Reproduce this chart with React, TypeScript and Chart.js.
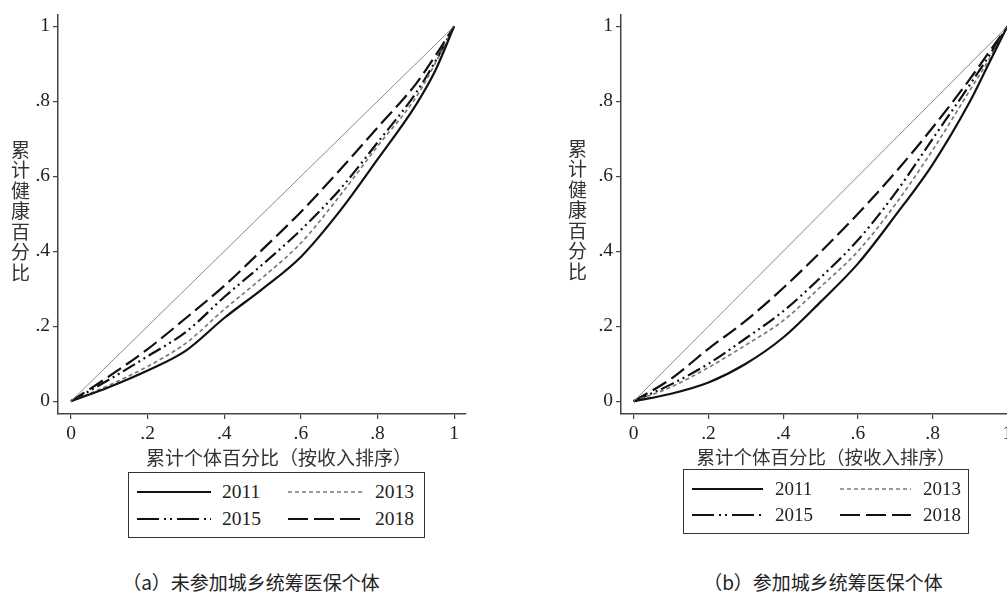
import React, { useEffect, useRef } from "react";
import { Chart, registerables } from "chart.js";
Chart.register(...registerables);

// Cumulative population share (ranked by income)
const xShares = [0, 0.1, 0.2, 0.3, 0.4, 0.5, 0.6, 0.7, 0.8, 0.9, 0.95, 1];

// Panel (a): not enrolled in integrated urban-rural insurance
const leftY2011 = [0, 0.038, 0.082, 0.135, 0.222, 0.3, 0.385, 0.505, 0.645, 0.79, 0.88, 1];
const leftY2013 = [0, 0.043, 0.093, 0.155, 0.245, 0.33, 0.422, 0.546, 0.68, 0.81, 0.9, 1];
const leftY2015 = [0, 0.058, 0.12, 0.185, 0.278, 0.365, 0.457, 0.563, 0.69, 0.822, 0.905, 1];
const leftY2018 = [0, 0.067, 0.139, 0.222, 0.308, 0.405, 0.505, 0.615, 0.73, 0.846, 0.92, 1];

// Panel (b): enrolled
const rightY2011 = [0, 0.02, 0.05, 0.1, 0.17, 0.265, 0.367, 0.495, 0.632, 0.8, 0.9, 1];
const rightY2013 = [0, 0.038, 0.09, 0.15, 0.215, 0.305, 0.4, 0.525, 0.67, 0.83, 0.91, 1];
const rightY2015 = [0, 0.045, 0.1, 0.168, 0.24, 0.33, 0.43, 0.555, 0.7, 0.845, 0.92, 1];
const rightY2018 = [0, 0.06, 0.14, 0.215, 0.302, 0.398, 0.5, 0.61, 0.73, 0.86, 0.93, 1];

const equalityX = [0, 1];
const equalityY = [0, 1];

const tickValues = [0, 0.2, 0.4, 0.6, 0.8, 1];
const tickLabels = ["0", ".2", ".4", ".6", ".8", "1"];
const years = ["2011", "2013", "2015", "2018"];

const yTitle = "累计健康百分比";
const xTitle = "累计个体百分比（按收入排序）";
const captionA = "（a）未参加城乡统筹医保个体";
const captionB = "（b）参加城乡统筹医保个体";

const serif = '"Liberation Serif", "DejaVu Serif", serif';
const cjk = '"Noto Sans CJK SC", "Noto Sans", sans-serif';

const styles = [
  { color: "#111", width: 2.2, dash: [] as number[] },
  { color: "#7a7a7a", width: 1.7, dash: [4, 3] },
  { color: "#111", width: 2.2, dash: [14, 4, 2, 4, 2, 4] },
  { color: "#111", width: 2.2, dash: [16, 6] },
];

function pts(xs: number[], ys: number[]) {
  return xs.map((x, i) => ({ x, y: ys[i] }));
}

function axis(isX: boolean, size: number) {
  return {
    type: "linear" as const,
    min: -0.034,
    max: 1.031,
    afterBuildTicks: (s: any) => {
      s.ticks = tickValues.map((v) => ({ value: v }));
    },
    afterFit: (s: any) => {
      if (isX) s.height = size;
      else s.width = size;
    },
    ticks: {
      autoSkip: false,
      maxRotation: 0,
      padding: isX ? 3 : 3,
      color: "#222",
      font: { family: serif, size: 19.5 },
      callback: (v: any) => {
        const i = tickValues.indexOf(Number(v));
        return i >= 0 ? tickLabels[i] : "";
      },
    },
    grid: {
      display: true,
      drawOnChartArea: false,
      drawTicks: true,
      tickLength: 5,
      color: "#444",
      lineWidth: 1.2,
    },
    border: { display: true, color: "#444", width: 1.5 },
  };
}

function Panel(props: {
  series: number[][];
  left: number;
  width: number;
  height: number;
  padTop: number;
  padRight: number;
}) {
  const ref = useRef<HTMLCanvasElement | null>(null);
  useEffect(() => {
    if (!ref.current) return;
    const datasets: any[] = [
      {
        label: "equality",
        data: pts(equalityX, equalityY),
        borderColor: "#8a8a8a",
        borderWidth: 1,
        showLine: true,
        pointRadius: 0,
      },
    ];
    props.series.forEach((ys, i) => {
      datasets.push({
        label: years[i],
        data: pts(xShares, ys),
        borderColor: styles[i].color,
        borderWidth: styles[i].width,
        borderDash: styles[i].dash,
        showLine: true,
        pointRadius: 0,
        cubicInterpolationMode: "monotone",
      });
    });
    const chart = new Chart(ref.current, {
      type: "scatter",
      data: { datasets },
      options: {
        animation: false,
        responsive: false,
        maintainAspectRatio: false,
        layout: { padding: { top: props.padTop, right: props.padRight, left: 0, bottom: 0 } },
        plugins: { legend: { display: false }, tooltip: { enabled: false } },
        scales: { x: axis(true, 36) as any, y: axis(false, 58) as any },
      },
    });
    return () => chart.destroy();
  }, []);
  return (
    <canvas
      ref={ref}
      width={props.width}
      height={props.height}
      style={{ position: "absolute", left: props.left, top: 0, width: props.width, height: props.height }}
    />
  );
}

function LegendBox(props: { x: number; y: number; w: number; h: number; rows: number[]; lineX: number[]; lineW: number; textX: number[]; fs: number }) {
  const items = years.map((yr, i) => ({ yr, row: Math.floor(i / 2), col: i % 2, i }));
  return (
    <>
      <div
        style={{
          position: "absolute",
          left: props.x,
          top: props.y,
          width: props.w,
          height: props.h,
          border: "1.5px solid #333",
          boxSizing: "border-box",
        }}
      />
      {items.map((it) => {
        const cy = props.rows[it.row];
        const lx = props.lineX[it.col];
        const st = styles[it.i];
        const legendDash = it.i === 2 ? "22 5 2 4 2 5" : it.i === 3 ? "20 6" : it.i === 1 ? "4 3" : "none";
        return (
          <React.Fragment key={it.yr}>
            <svg style={{ position: "absolute", left: lx, top: cy - 5, width: props.lineW, height: 10, overflow: "visible" }}>
              <line x1={0} y1={5} x2={props.lineW} y2={5} stroke={st.color} strokeWidth={st.width} strokeDasharray={legendDash} />
            </svg>
            <div
              style={{
                position: "absolute",
                left: props.textX[it.col],
                top: cy - 12,
                height: 24,
                lineHeight: "24px",
                fontFamily: serif,
                fontSize: props.fs,
                color: "#222",
                whiteSpace: "nowrap",
              }}
            >
              {it.yr}
            </div>
          </React.Fragment>
        );
      })}
    </>
  );
}

function VTitle(props: { cx: number; top: number; fs: number }) {
  return (
    <div
      style={{
        position: "absolute",
        left: props.cx - 12,
        top: props.top,
        width: 24,
        writingMode: "vertical-rl",
        textOrientation: "upright",
        fontFamily: cjk,
        fontSize: props.fs,
        lineHeight: "24px",
        letterSpacing: "1.5px",
        color: "#333",
      }}
    >
      {yTitle}
    </div>
  );
}

function CText(props: { cx: number; cy: number; fs: number; text: string; color?: string }) {
  return (
    <div
      style={{
        position: "absolute",
        left: props.cx - 300,
        top: props.cy - 15,
        width: 600,
        height: 30,
        lineHeight: "30px",
        textAlign: "center",
        fontFamily: cjk,
        fontSize: props.fs,
        color: props.color || "#333",
        whiteSpace: "nowrap",
      }}
    >
      {props.text}
    </div>
  );
}

export default function App() {
  return (
    <div
      style={{
        position: "absolute",
        left: 0,
        top: 0,
        width: 1007,
        height: 597,
        overflow: "hidden",
        background: "#fff",
      }}
    >
      <Panel series={[leftY2011, leftY2013, leftY2015, leftY2018]} left={0} width={480} height={450} padTop={7} padRight={14} />
      <Panel series={[rightY2011, rightY2013, rightY2015, rightY2018]} left={563} width={470} height={450} padTop={10} padRight={14} />
      <VTitle cx={20} top={140} fs={19} />
      <VTitle cx={577} top={139} fs={19} />
      <CText cx={279} cy={457} fs={19} text={xTitle} />
      <CText cx={826} cy={456} fs={18.5} text={xTitle} />
      <LegendBox x={128} y={472} w={297} h={66} rows={[492, 519]} lineX={[137, 288]} lineW={74} textX={[222, 375]} fs={19.5} />
      <LegendBox x={683} y={469} w={286} h={65} rows={[489, 515]} lineX={[692, 840]} lineW={71} textX={[775, 923]} fs={19} />
      <CText cx={251} cy={582} fs={19} text={captionA} color="#222" />
      <CText cx={823} cy={582} fs={19} text={captionB} color="#222" />
    </div>
  );
}
